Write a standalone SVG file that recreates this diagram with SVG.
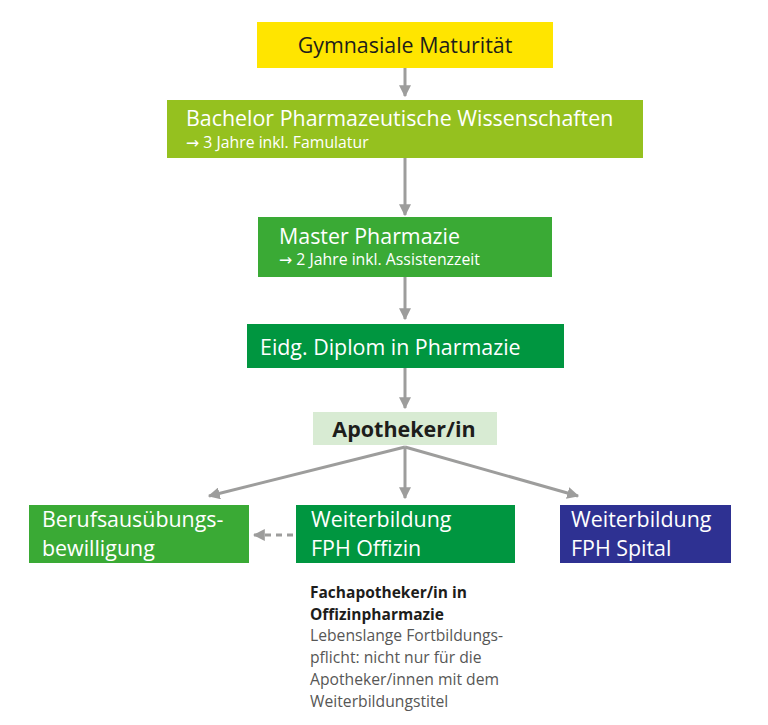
<svg xmlns="http://www.w3.org/2000/svg" width="768" height="725" viewBox="0 0 768 725">
<defs>
<marker id="ah" viewBox="0 0 10 10" refX="9" refY="5" markerWidth="4" markerHeight="4" orient="auto" markerUnits="strokeWidth">
<path d="M0,0 L10,5 L0,10 z" fill="#9d9d9c"/>
</marker>
<style>
text{font-family:"Open Sans","Noto Sans",sans-serif}
.w{fill:#ffffff}
.t{font-size:21.4px}
.s{font-size:15.8px}
.a{font-family:"DejaVu Sans",sans-serif}
.c{stroke:#9d9d9c;stroke-width:3;fill:none}
.d{stroke-dasharray:6 5}
.b{font-size:15.5px;font-weight:bold;fill:#1d1d1b}
.g{font-size:15.7px;fill:#575756}
</style>
</defs>
<rect width="768" height="725" fill="#ffffff"/>
<g id="connectors">
<line class="c" x1="405" y1="68" x2="405" y2="96" marker-end="url(#ah)"/>
<line class="c" x1="405" y1="158" x2="405" y2="215" marker-end="url(#ah)"/>
<line class="c" x1="405" y1="277" x2="405" y2="319" marker-end="url(#ah)"/>
<line class="c" x1="405" y1="368" x2="405" y2="408" marker-end="url(#ah)"/>
<line class="c" x1="405" y1="447" x2="209" y2="496" marker-end="url(#ah)"/>
<line class="c" x1="405" y1="447" x2="405" y2="498" marker-end="url(#ah)"/>
<line class="c" x1="405" y1="447" x2="578" y2="496" marker-end="url(#ah)"/>
<line class="c d" x1="293" y1="535" x2="254" y2="535" marker-end="url(#ah)"/>
</g>
<g id="gymnasiale">
<rect x="257" y="22" width="296" height="46" fill="#ffe500"/>
<text x="405" y="53" text-anchor="middle" class="t" fill="#1d1d1b">Gymnasiale Maturität</text>
</g>
<g id="bachelor">
<rect x="167" y="100" width="476" height="58" fill="#95c11f"/>
<text x="186" y="126" class="t w">Bachelor Pharmazeutische Wissenschaften</text>
<text x="186" y="148" class="s w"><tspan class="a">→</tspan> 3 Jahre inkl. Famulatur</text>
</g>
<g id="master">
<rect x="258" y="217" width="294" height="60" fill="#3aaa35"/>
<text x="279" y="244" class="t w">Master Pharmazie</text>
<text x="279" y="265" class="s w"><tspan class="a">→</tspan> 2 Jahre inkl. Assistenzzeit</text>
</g>
<g id="diplom">
<rect x="247" y="324" width="317" height="44" fill="#009640"/>
<text x="260" y="355" class="t w">Eidg. Diplom in Pharmazie</text>
</g>
<g id="apotheker">
<rect x="313" y="412" width="184" height="33" fill="#d8ebd3"/>
<text x="404" y="437" text-anchor="middle" style="font-size:21.5px;font-weight:bold" fill="#1d1d1b">Apotheker/in</text>
</g>
<g id="berufsausuebung">
<rect x="29" y="505" width="220" height="58" fill="#3aaa35"/>
<text x="42" y="527" class="t w">Berufsausübungs-</text>
<text x="42" y="556" class="t w">bewilligung</text>
</g>
<g id="offizin">
<rect x="296" y="505" width="219" height="58" fill="#009640"/>
<text x="311" y="527" class="t w">Weiterbildung</text>
<text x="311" y="556" class="t w">FPH Offizin</text>
</g>
<g id="spital">
<rect x="560" y="505" width="171" height="58" fill="#2e3192"/>
<text x="571" y="527" class="t w">Weiterbildung</text>
<text x="571" y="556" class="t w">FPH Spital</text>
</g>
<g id="note">
<text x="310" y="598" class="b">Fachapotheker/in in</text>
<text x="310" y="620" class="b">Offizinpharmazie</text>
<text x="310" y="641" class="g">Lebenslange Fortbildungs-</text>
<text x="310" y="663" class="g">pflicht: nicht nur für die</text>
<text x="310" y="685" class="g">Apotheker/innen mit dem</text>
<text x="310" y="707" class="g">Weiterbildungstitel</text>
</g>
</svg>
